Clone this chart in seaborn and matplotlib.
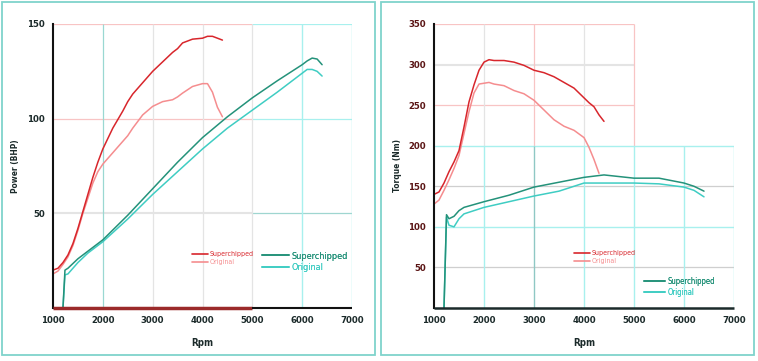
import pandas as pd
import numpy as np
import matplotlib.pyplot as plt
import seaborn as sns
from matplotlib.lines import Line2D
from matplotlib.patches import Rectangle

# ---- data ----
# Power (BHP), red chart
red_rpm = [1000, 1100, 1200, 1300, 1400, 1500, 1600, 1700, 1800, 1900, 2000, 2200, 2400,
           2500, 2600, 2800, 3000, 3200, 3400, 3500, 3600, 3800, 4000, 4100, 4200, 4300, 4400]
red_power_chip = [20, 21, 24, 28, 34, 42, 51, 60, 69, 77, 84, 95, 104,
                  109, 113, 119, 125, 130, 135, 137, 140, 142, 142.5, 143.5, 143.5, 142.5, 141.5]
red_power_orig = [18, 19.5, 23, 27, 33, 41, 50, 58, 66, 72, 76, 82, 88,
                  91, 95, 102, 106.5, 109, 110, 111.5, 113.5, 117, 118.5, 118.5, 114, 106, 101]

# Power (BHP), teal chart
teal_rpm = [1200, 1240, 1300, 1500, 1700, 2000, 2500, 3000, 3500, 4000, 4500, 5000,
            5500, 6000, 6100, 6200, 6300, 6400]
teal_power_chip = [0, 20, 21, 26, 30, 36, 49, 63, 77, 90, 101, 111,
                   120, 128.5, 130.5, 132, 131.5, 128.5]
teal_power_orig = [0, 17.5, 18, 24, 29, 35, 47, 60, 72, 84, 95, 104.5,
                   114, 124, 126, 126, 125, 122.5]

# Torque (Nm), red chart
red_trq_rpm = [1000, 1100, 1200, 1300, 1400, 1500, 1600, 1700, 1800, 1900, 2000, 2100, 2200,
               2400, 2500, 2600, 2800, 3000, 3200, 3400, 3600, 3800, 4000, 4100, 4200, 4300, 4400]
red_torque_chip = [140, 143, 154, 168, 180, 194, 223, 254, 275, 293, 303, 306, 305,
                   305, 304, 303, 299, 293, 290, 285, 278, 271, 259, 253, 248, 238, 230]
red_torque_orig = [128, 133, 145, 158, 172, 188, 215, 242, 265, 276, 277, 278, 276,
                   274, 271, 268, 264, 256, 244, 232, 224, 219, 210, 198, 183, 166, None]

# Torque (Nm), teal chart
teal_trq_rpm = [1200, 1250, 1300, 1400, 1500, 1600, 2000, 2500, 3000, 3500, 4000, 4400,
                5000, 5500, 6000, 6200, 6400]
teal_torque_chip = [0, 115, 110, 113, 120, 124, 131, 139, 149, 155, 161, 164,
                    160, 160, 154, 150, 144]
teal_torque_orig = [0, 112, 102, 100, 110, 116, 124, 131, 138, 144, 154, 154,
                    154, 153, 149, 145, 137]

x_ticks = [1000, 2000, 3000, 4000, 5000, 6000, 7000]
power_ticks = [50, 100, 150]
torque_ticks = [50, 100, 150, 200, 250, 300, 350]

# ---- colours ----
RED = "#d8262c"
PINK = "#f58d8f"
TEAL = "#24927a"
AQUA = "#3fcdc3"
CYAN_GRID = "#a8f0ee"
PINK_GRID = "#f8c4c4"
GRAY_GRID = "#e4e4e4"
FRAME = "#7fd3cc"

sns.set_style("white")
plt.rcParams["font.family"] = ["DejaVu Sans"]
plt.rcParams["font.stretch"] = "condensed"

fig = plt.figure(figsize=(7.58, 3.61), dpi=100)
W, H = 758, 361


def px_axes(x0, y0, x1, y1):
    return fig.add_axes([x0 / W, 1 - y1 / H, (x1 - x0) / W, (y1 - y0) / H])


# panel frames
fig.patches.append(Rectangle((2 / W, 1 - 355 / H), 373 / W, 353 / H, transform=fig.transFigure,
                             fill=False, edgecolor=FRAME, lw=1.3))
fig.patches.append(Rectangle((381 / W, 1 - 355 / H), 373 / W, 353 / H, transform=fig.transFigure,
                             fill=False, edgecolor=FRAME, lw=1.3))

ax1 = px_axes(53, 24, 352, 308)
ax2 = px_axes(434, 24, 734, 308)

# ---- left: power ----
ax = ax1
ax.hlines([100, 150], 1000, 5000, colors=PINK_GRID, lw=0.9)
ax.hlines([50], 1000, 5000, colors=GRAY_GRID, lw=1.5)
ax.hlines([100, 150], 5000, 7000, colors=CYAN_GRID, lw=0.9)
ax.hlines([50], 5000, 7000, colors="#9fd6d0", lw=0.9)
ax.vlines([3000, 4000, 5000], 0, 150, colors=GRAY_GRID, lw=0.9)
ax.vlines([6000, 7000], 0, 150, colors=CYAN_GRID, lw=1.0)
ax.vlines([2000], 0, 150, colors="#9ad8d2", lw=0.9)

df_p_red = pd.DataFrame({"rpm": red_rpm, "chip": red_power_chip, "orig": red_power_orig})
df_p_teal = pd.DataFrame({"rpm": teal_rpm, "chip": teal_power_chip, "orig": teal_power_orig})
sns.lineplot(data=df_p_red, x="rpm", y="orig", color=PINK, lw=1.1, ax=ax, estimator=None, sort=False)
sns.lineplot(data=df_p_red, x="rpm", y="chip", color=RED, lw=1.1, ax=ax, estimator=None, sort=False)
sns.lineplot(data=df_p_teal, x="rpm", y="orig", color=AQUA, lw=1.1, ax=ax, estimator=None, sort=False)
sns.lineplot(data=df_p_teal, x="rpm", y="chip", color=TEAL, lw=1.1, ax=ax, estimator=None, sort=False)

ax.hlines(0, 1000, 5000, colors="#9b2a2a", lw=2.5, clip_on=False, zorder=5)
ax.hlines(0, 5000, 7000, colors="#111111", lw=1.5, clip_on=False, zorder=5)
ax.set_ylim(0, 150)
ax.set_yticks(power_ticks)
ax.set_ylabel("Power (BHP)", fontsize=6, color="#1b2a2a", labelpad=5)

# ---- right: torque ----
ax = ax2
ax.hlines([350, 250], 1000, 5000, colors=PINK_GRID, lw=0.9)
ax.hlines([300], 1000, 5000, colors=GRAY_GRID, lw=1.5)
ax.vlines([2000, 4000], 200, 350, colors=GRAY_GRID, lw=0.9)
ax.vlines([3000, 5000], 200, 350, colors=PINK_GRID, lw=0.9)
ax.hlines([200, 100], 1000, 7000, colors=CYAN_GRID, lw=1.0)
ax.hlines([150, 50], 1000, 7000, colors="#cfcfcf", lw=0.9)
ax.vlines([2000, 4000, 5000, 6000, 7000], 0, 200, colors=CYAN_GRID, lw=1.0)
ax.vlines([3000], 0, 200, colors="#8fc8c4", lw=1.0)

df_t_red = pd.DataFrame({"rpm": red_trq_rpm, "chip": red_torque_chip, "orig": red_torque_orig})
df_t_teal = pd.DataFrame({"rpm": teal_trq_rpm, "chip": teal_torque_chip, "orig": teal_torque_orig})
sns.lineplot(data=df_t_red, x="rpm", y="orig", color=PINK, lw=1.1, ax=ax, estimator=None, sort=False)
sns.lineplot(data=df_t_red, x="rpm", y="chip", color=RED, lw=1.1, ax=ax, estimator=None, sort=False)
sns.lineplot(data=df_t_teal, x="rpm", y="orig", color=AQUA, lw=1.1, ax=ax, estimator=None, sort=False)
sns.lineplot(data=df_t_teal, x="rpm", y="chip", color=TEAL, lw=1.1, ax=ax, estimator=None, sort=False)

ax.hlines(0, 1000, 7000, colors="#1b2a2a", lw=1.8, clip_on=False, zorder=5)
ax.set_ylim(0, 350)
ax.set_yticks(torque_ticks)
ax.set_ylabel("Torque (Nm)", fontsize=6, color="#1b2a2a", labelpad=4)

for ax, ycol in [(ax1, "#1b2a2a"), (ax2, "#5a1414")]:
    ax.set_xlim(1000, 7000)
    ax.set_xticks(x_ticks)
    ax.set_xlabel("Rpm", fontsize=7, color="#1b2a2a", labelpad=9, fontweight="bold")
    for s in ["top", "right", "bottom"]:
        ax.spines[s].set_visible(False)
    ax.spines["left"].set_color("#111111")
    ax.spines["left"].set_linewidth(1.5)
    ax.tick_params(axis="both", length=0, labelsize=6.8, pad=6)
    ax.tick_params(axis="x", colors="#1b2a2a")
    ax.tick_params(axis="y", colors=ycol)
    for lbl in ax.get_xticklabels() + ax.get_yticklabels():
        lbl.set_fontweight("bold")
    ax.yaxis.label.set_fontweight("bold")
    ax.set_facecolor("none")

# ---- legends ----
def add_legend(ax, colors, txtcols, anchor, fsize, hlen):
    handles = [Line2D([], [], color=c, lw=1.2) for c in colors]
    leg = ax.legend(handles, ["Superchipped", "Original"], loc="upper left", bbox_to_anchor=anchor,
                    bbox_transform=fig.transFigure, frameon=False, fontsize=fsize,
                    handlelength=hlen, handletextpad=0.3, labelspacing=0.25, borderpad=0)
    for t, c in zip(leg.get_texts(), txtcols):
        t.set_color(c)
    ax.add_artist(leg)


add_legend(ax1, [RED, PINK], [RED, PINK], (189 / W, 1 - 248 / H), 5, 2.2)
add_legend(ax1, [TEAL, AQUA], [TEAL, AQUA], (257 / W, 1 - 247 / H), 6.5, 3.0)
add_legend(ax2, [RED, PINK], [RED, PINK], (571 / W, 1 - 247 / H), 5, 2.2)
add_legend(ax2, [TEAL, AQUA], [TEAL, AQUA], (640 / W, 1 - 273 / H), 5.5, 2.8)

fig.savefig("out.png", dpi=100)
